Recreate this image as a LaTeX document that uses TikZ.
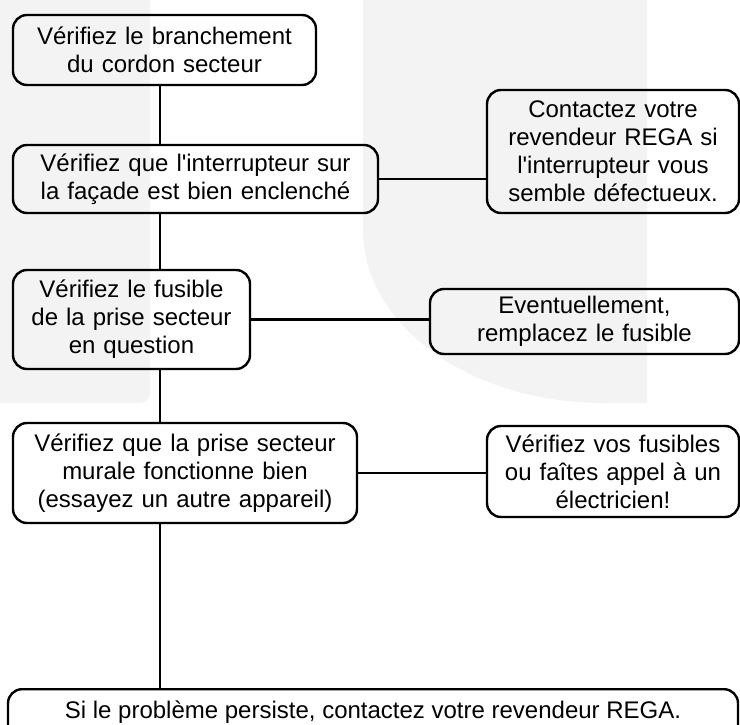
\documentclass[tikz,border=0pt]{standalone}
\usepackage{fontspec}
\setmainfont{Liberation Sans}
\definecolor{wm}{RGB}{243,243,243}
\begin{document}
\begin{tikzpicture}[x=1pt,y=-1pt,
  box/.style={draw, line width=2.4pt, rounded corners=14pt, align=center,
    inner xsep=2pt, inner ysep=0pt, font=\fontsize{24}{28}\selectfont},
  link/.style={line width=2.4pt}]
\useasboundingbox (0,0) rectangle (740,725);
\clip (0,0) rectangle (740,725);
% faint watermark
\fill[wm, rounded corners=10pt] (-20,-20) rectangle (150,403);
\fill[wm] (363,0) -- (647,0) -- (647,403) -- (603,403)
  arc[start angle=90, end angle=180, x radius=240, y radius=173] -- cycle;
% boxes
\node[box, minimum width=303pt, minimum height=70pt, text width=299pt] (b1) at (164.5,50)
  {Vérifiez le branchement\\du cordon secteur};
\node[box, minimum width=365pt, minimum height=68pt, text width=361pt] (b2) at (195.5,179)
  {Vérifiez que l\textquotesingle interrupteur sur\\la façade est bien enclenché};
\node[box, minimum width=252pt, minimum height=123pt, text width=248pt] (b3) at (613,151.5)
  {Contactez votre\\revendeur REGA si\\l\textquotesingle interrupteur vous\\semble défectueux.};
\node[box, minimum width=237pt, minimum height=99pt, text width=233pt] (b4) at (131.5,319.5)
  {Vérifiez le fusible\\de la prise secteur\\en question};
\node[box, minimum width=309pt, minimum height=65pt, text width=305pt] (b5) at (584.5,321.5)
  {Eventuellement,\\remplacez le fusible};
\node[box, minimum width=344pt, minimum height=100pt, text width=340pt] (b6) at (185,473)
  {Vérifiez que la prise secteur\\murale fonctionne bien\\(essayez un autre appareil)};
\node[box, minimum width=252pt, minimum height=91pt, text width=248pt] (b7) at (613,471.5)
  {Vérifiez vos fusibles\\ou faîtes appel à un\\électricien!};
\node[box, anchor=north, minimum width=730pt, inner ysep=5pt, text height=24pt, text depth=30pt]
  (b8) at (373,688) {Si le problème persiste, contactez votre revendeur REGA.};
% connectors
\coordinate (t) at (160,0);
\draw[link] (b1.south -| t) -- (b2.north -| t);
\draw[link] (b2.south -| t) -- (b4.north -| t);
\draw[link] (b4.south -| t) -- (b6.north -| t);
\draw[link] (b6.south -| t) -- (b8.north -| t);
\draw[link] (b2.east) -- (b2.east -| b3.west);
\draw[link] (b4.east) -- (b4.east -| b5.west);
\draw[link] (b6.east) -- (b6.east -| b7.west);
\end{tikzpicture}
\end{document}
